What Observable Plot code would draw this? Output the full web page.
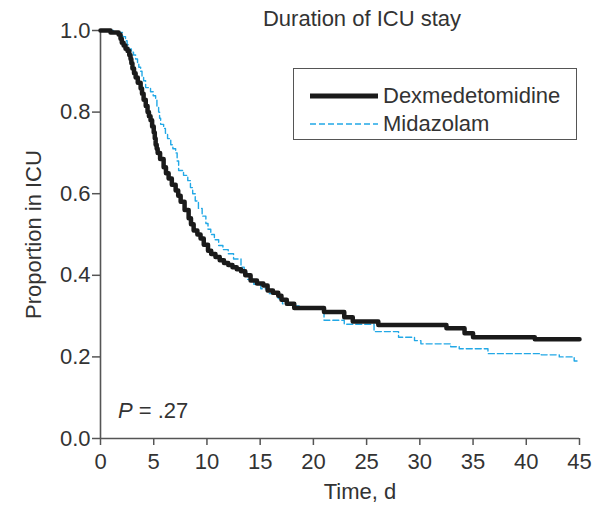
<!DOCTYPE html>
<html>
<head>
<meta charset="utf-8">
<script src="https://cdn.jsdelivr.net/npm/d3@7"></script>
<script src="https://cdn.jsdelivr.net/npm/@observablehq/plot@0.6"></script>
<style>
  html, body { margin: 0; padding: 0; background: #fff; }
  #wrap { position: relative; width: 594px; height: 510px; font-family: "Liberation Sans", Arial, sans-serif; color: #333; }
  #title { position: absolute; left: 242px; top: 6px; width: 240px; text-align: center; font-size: 22px; white-space: nowrap; }
  #legend { position: absolute; left: 293px; top: 68px; width: 284px; height: 72px; border: 1.3px solid #555; box-sizing: border-box; }
  .lg { position: absolute; left: 16px; height: 28px; display: flex; align-items: center; font-size: 22px; white-space: nowrap; }
  .lg svg { margin-right: 5px; }
</style>
</head>
<body>
<div id="wrap">
  <div id="chart"></div>
  <div id="title"></div>
  <div id="legend"></div>
</div>
<script>
const title = "Duration of ICU stay";
const xLabel = "Time, d";
const yLabel = "Proportion in ICU";
const pText = ".27";
const xTicks = [0, 5, 10, 15, 20, 25, 30, 35, 40, 45];
const yTicks = [0, 0.2, 0.4, 0.6, 0.8, 1.0];
const seriesNames = ["Dexmedetomidine", "Midazolam"];

const dexT = [0, 0.94, 1.7, 1.88, 2.0, 2.17, 2.35, 2.54, 2.7, 2.82, 2.9, 3.0, 3.15, 3.3, 3.5, 3.77, 3.9, 4.05, 4.25, 4.42, 4.55, 4.7, 4.85, 5.0, 5.1, 5.18, 5.28, 5.37, 5.6, 5.93, 6.15, 6.4, 6.7, 7.06, 7.3, 7.53, 7.9, 8.28, 8.5, 8.75, 9.1, 9.4, 9.7, 10.1, 10.4, 10.8, 11.2, 11.6, 12.0, 12.4, 12.8, 13.2, 13.6, 14.1, 14.7, 15.3, 15.7, 16.2, 16.7, 17.0, 17.5, 18.2, 21.0, 22.9, 23.7, 26.1, 32.5, 34.2, 35.0, 40.8, 45];
const dexP = [1.0, 0.995, 0.99, 0.98, 0.97, 0.963, 0.955, 0.95, 0.94, 0.93, 0.92, 0.907, 0.895, 0.885, 0.872, 0.858, 0.845, 0.83, 0.815, 0.80, 0.79, 0.78, 0.765, 0.75, 0.735, 0.72, 0.71, 0.70, 0.685, 0.665, 0.65, 0.637, 0.622, 0.608, 0.595, 0.58, 0.56, 0.54, 0.525, 0.51, 0.50, 0.49, 0.475, 0.46, 0.452, 0.445, 0.437, 0.43, 0.425, 0.42, 0.415, 0.41, 0.40, 0.387, 0.38, 0.375, 0.363, 0.357, 0.35, 0.34, 0.33, 0.32, 0.31, 0.297, 0.287, 0.278, 0.27, 0.258, 0.248, 0.243, 0.243];

const midT = [0, 1.22, 2.07, 2.35, 2.5, 2.64, 2.9, 3.1, 3.3, 3.48, 3.6, 3.77, 3.9, 4.05, 4.24, 4.7, 4.95, 5.18, 5.3, 5.46, 5.55, 5.65, 5.93, 6.1, 6.3, 6.6, 6.8, 7.06, 7.2, 7.34, 7.8, 8.2, 8.45, 8.66, 8.9, 9.2, 9.55, 9.9, 10.1, 10.36, 10.7, 11.1, 11.5, 12.0, 12.5, 13.2, 13.5, 13.8, 14.4, 15.06, 15.8, 16.7, 17.1, 17.9, 18.8, 21.0, 22.9, 25.7, 28.0, 29.5, 30.1, 32.9, 33.7, 36.4, 41.4, 43.1, 44.5, 45];
const midP = [1.0, 0.995, 0.985, 0.975, 0.965, 0.955, 0.947, 0.94, 0.93, 0.92, 0.91, 0.90, 0.888, 0.877, 0.86, 0.85, 0.84, 0.83, 0.815, 0.80, 0.785, 0.77, 0.76, 0.748, 0.735, 0.72, 0.71, 0.70, 0.68, 0.657, 0.645, 0.632, 0.615, 0.60, 0.582, 0.564, 0.545, 0.527, 0.513, 0.50, 0.487, 0.473, 0.463, 0.453, 0.44, 0.42, 0.405, 0.39, 0.378, 0.367, 0.355, 0.343, 0.33, 0.325, 0.318, 0.29, 0.28, 0.262, 0.248, 0.24, 0.232, 0.225, 0.22, 0.208, 0.205, 0.20, 0.19, 0.19];

const dex = dexT.map((t, i) => ({t, p: dexP[i]}));
const mid = midT.map((t, i) => ({t, p: midP[i]}));

const font = "Liberation Sans, Arial, sans-serif";
const chart = Plot.plot({
  width: 594,
  height: 510,
  marginLeft: 100,
  marginRight: 15,
  marginTop: 30,
  marginBottom: 72,
  style: { fontFamily: font, fontSize: "22px", color: "#333", background: "#fff" },
  x: { domain: [0, 45] },
  y: { domain: [0, 1] },
  marks: [
    Plot.axisX(xTicks, { tickSize: 7, tickPadding: 8, stroke: "#555", strokeWidth: 1.5, fill: "#333", fontSize: 22, label: null }),
    Plot.axisY(yTicks, { tickSize: 8, tickPadding: 2, stroke: "#555", strokeWidth: 1.5, fill: "#333", fontSize: 22, tickFormat: d3.format(".1f"), label: null }),
    Plot.ruleX([0], { stroke: "#555", strokeWidth: 1.6 }),
    Plot.ruleY([0], { stroke: "#555", strokeWidth: 1.6 }),
    Plot.line(mid, { x: "t", y: "p", curve: "step-after", stroke: "#22a8e6", strokeWidth: 1.4, strokeDasharray: "6,3" }),
    Plot.line(dex, { x: "t", y: "p", curve: "step-after", stroke: "#1a1a1a", strokeWidth: 4.5 }),
    Plot.text([xLabel], { frameAnchor: "bottom", dx: 20, dy: 60, fontSize: 22, fill: "#333" }),
    Plot.text([yLabel], { frameAnchor: "left", textAnchor: "middle", dx: -67, rotate: -90, fontSize: 22, fill: "#333" })
  ]
});
document.getElementById("chart").appendChild(chart);

// P value annotation with italic P
const svgNS = "http://www.w3.org/2000/svg";
const ptxt = document.createElementNS(svgNS, "text");
ptxt.setAttribute("x", 118);
ptxt.setAttribute("y", 418);
ptxt.setAttribute("text-anchor", "start");
ptxt.setAttribute("font-size", 22);
ptxt.setAttribute("fill", "#333");
ptxt.setAttribute("font-family", font);
const ts1 = document.createElementNS(svgNS, "tspan");
ts1.setAttribute("font-style", "italic");
ts1.textContent = "P";
const ts2 = document.createElementNS(svgNS, "tspan");
ts2.textContent = " = " + pText;
ptxt.appendChild(ts1); ptxt.appendChild(ts2);
chart.appendChild(ptxt);

document.getElementById("title").textContent = title;

const legend = document.getElementById("legend");
const styles = [
  { stroke: "#1a1a1a", width: 5, dash: "none" },
  { stroke: "#22a8e6", width: 1.4, dash: "6,3" }
];
seriesNames.forEach((name, i) => {
  const row = document.createElement("div");
  row.className = "lg";
  row.style.top = (13 + i * 28) + "px";
  const s = styles[i];
  row.innerHTML = `<svg width="68" height="10"><line x1="0" x2="68" y1="5" y2="5" stroke="${s.stroke}" stroke-width="${s.width}" stroke-dasharray="${s.dash}"/></svg><span>${name}</span>`;
  legend.appendChild(row);
});
</script>
</body>
</html>
